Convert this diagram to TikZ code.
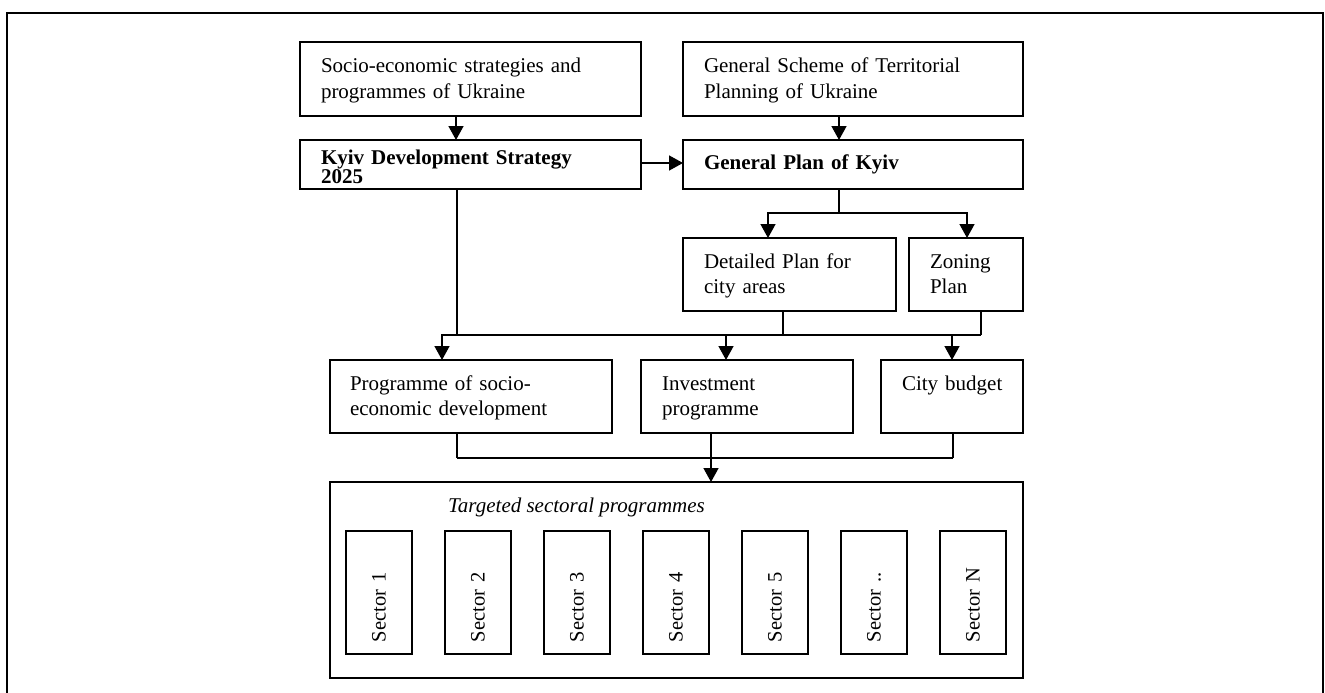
\documentclass[tikz,border=0pt]{standalone}
\usepackage{fontspec}
\setmainfont{Liberation Serif}
\usetikzlibrary{arrows.meta}
\newcommand{\fs}{\fontsize{21}{25}\selectfont}
\newcommand{\fsb}{\bfseries\fontsize{21}{17.5}\selectfont}
\newcommand{\fss}{\fontsize{20.5}{25}\selectfont}
\begin{document}
\begin{tikzpicture}[
  x=1pt, y=-1pt,
  box/.style={draw, line width=1.5pt, rectangle, anchor=north west, inner xsep=21pt,
    inner ysep=0pt, outer sep=0pt, align=left, font=\fs, text height=30pt},
  secbox/.style={draw, line width=1.5pt, rectangle, rotate=90, minimum width=123pt,
    minimum height=66pt, text width=99pt, inner xsep=12pt, inner ysep=0pt,
    outer sep=0pt, align=left, font=\fss},
  arr/.style={line width=1.5pt, -{Triangle[width=15pt,length=14pt]}},
  ln/.style={line width=1.5pt},
]
\useasboundingbox (0,0) rectangle (1325,693);
\draw[line width=1.5pt] (7,13) rectangle (1323,720);

% top row
\node[box, text width=299pt, text height=31pt, text depth=43pt] (socio) at (300,42)
  {Socio-economic strategies and\\programmes of Ukraine};
\node[box, text width=298pt, text height=31pt, text depth=43pt] (scheme) at (683,42)
  {General Scheme of Territorial\\Planning of Ukraine};

% second row
\node[box, font=\fsb, text width=299pt, text height=24pt, text depth=25pt] (kyiv) at (300,140)
  {Kyiv Development Strategy\\2025};
\node[box, font=\fsb, text width=298pt, text height=29pt, text depth=20pt] (genplan) at (683,140)
  {General Plan of Kyiv};

% third row
\node[box, text width=171pt, text depth=43pt] (detailed) at (683,238)
  {Detailed Plan for\\city areas};
\node[box, text width=72pt, text depth=43pt] (zoning) at (909,238)
  {Zoning\\Plan};

% fourth row
\node[box, inner xsep=20pt, text width=242pt, text depth=43pt] (progsoc) at (330,360)
  {Programme of socio-\\economic development};
\node[box, text width=170pt, text depth=43pt] (invest) at (641,360)
  {Investment\\programme};
\node[box, text width=100pt, text depth=43pt] (budget) at (881,360)
  {\mbox{City budget}};

% container
\node[draw, line width=1.5pt, rectangle, anchor=north west, minimum width=693pt,
  minimum height=196pt, inner sep=0pt, outer sep=0pt] (big) at (330,482) {};
\node[anchor=base west, inner sep=0pt, font=\fs\itshape] (title)
  at ([xshift=118pt,yshift=-30pt]big.north west) {Targeted sectoral programmes};

\node[secbox] (s1) at (379,592.5) {Sector 1};
\node[secbox] (s2) at (478,592.5) {Sector 2};
\node[secbox] (s3) at (577,592.5) {Sector 3};
\node[secbox] (s4) at (676,592.5) {Sector 4};
\node[secbox] (s5) at (775,592.5) {Sector 5};
\node[secbox] (s6) at (874,592.5) {Sector ..};
\node[secbox] (s7) at (973,592.5) {Sector N};

% connectors
\draw[arr] ([xshift=-14.5pt]socio.south) -- ([xshift=-14.5pt]kyiv.north);
\draw[arr] ([xshift=-14pt]scheme.south) -- ([xshift=-14pt]genplan.north);
\draw[arr] ([yshift=1.5pt]kyiv.east) -- ([yshift=1.5pt]genplan.west);

\draw[ln] ([xshift=-14pt]genplan.south) -- ++(0,24) coordinate (gs);
\draw[arr] (gs) -| ([xshift=-21.5pt]detailed.north);
\draw[arr] (gs) -| ([xshift=1pt]zoning.north);

\draw[ln] ([xshift=-13.5pt]kyiv.south) -- ++(0,146) coordinate (kb);
\draw[ln] ([xshift=15pt]zoning.south) -- ++(0,24) coordinate (zb);
\draw[ln] (kb) -- (zb);
\draw[ln] ([xshift=-6.5pt]detailed.south) -- ([xshift=-6.5pt]detailed.south |- kb);
\draw[arr] (kb) -| ([xshift=-29pt]progsoc.north);
\draw[arr] (kb) -| ([xshift=-21pt]invest.north);
\draw[arr] (zb) -| (budget.north);

\draw[ln] ([xshift=-14pt]progsoc.south) -- ++(0,25) coordinate (pb);
\draw[ln] ([xshift=1pt]budget.south) -- ++(0,25) coordinate (bb);
\draw[ln] (pb) -- (bb);
\draw[arr] ([xshift=-36pt]invest.south) -- ([xshift=34.5pt]big.north);
\end{tikzpicture}
\end{document}
